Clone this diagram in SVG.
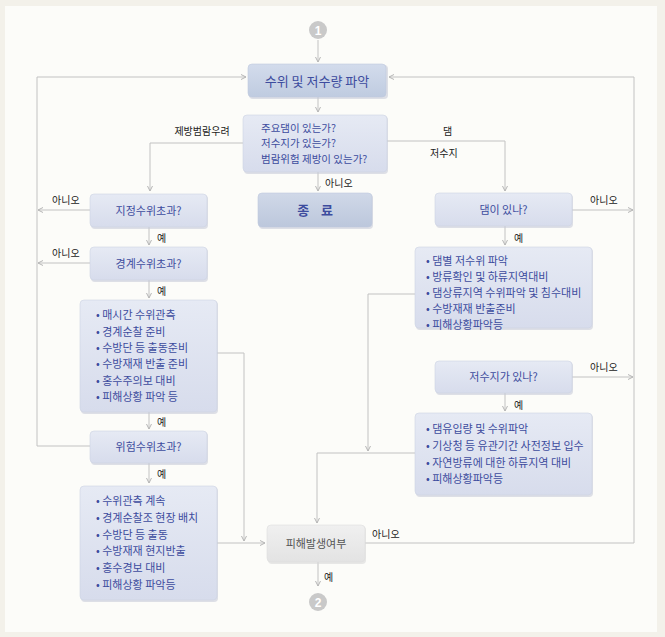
<svg xmlns="http://www.w3.org/2000/svg" width="665" height="637" viewBox="0 0 665 637">
<defs>
<linearGradient id="gBlue" x1="0" y1="0" x2="0" y2="1"><stop offset="0" stop-color="#e6eaf4"/><stop offset="1" stop-color="#d7dcec"/></linearGradient>
<linearGradient id="gMain" x1="0" y1="0" x2="0" y2="1"><stop offset="0" stop-color="#d3dcec"/><stop offset="1" stop-color="#bfcbe0"/></linearGradient>
<linearGradient id="gEnd" x1="0" y1="0" x2="0" y2="1"><stop offset="0" stop-color="#d0d8e8"/><stop offset="1" stop-color="#bcc7dc"/></linearGradient>
<linearGradient id="gGray" x1="0" y1="0" x2="0" y2="1"><stop offset="0" stop-color="#f0f0f0"/><stop offset="1" stop-color="#e3e3e3"/></linearGradient>
<marker id="arr" markerWidth="6" markerHeight="6" refX="5" refY="3" orient="auto" markerUnits="userSpaceOnUse"><path d="M0,0.5 L5,3 L0,5.5" fill="none" stroke="#b5b5b5" stroke-width="1"/></marker>
</defs>
<style>
.c{fill:none;stroke:#c2c2c2;stroke-width:1}
.box{stroke:#cdd3e3;stroke-width:0.6}
.t{font-family:"Noto Sans CJK KR","Noto Sans",sans-serif;fill:#3d4c9e;font-size:11px}
.tq{font-family:"Noto Sans CJK KR","Noto Sans",sans-serif;fill:#3d4c9e;font-size:10.5px}
.tm{font-family:"Noto Sans CJK KR","Noto Sans",sans-serif;fill:#3d4c9e;font-size:13px}
.lb{font-family:"Noto Sans CJK KR","Noto Sans",sans-serif;fill:#222;font-size:10px}
.sh{fill:#c8ccd8;opacity:0.6}
</style>
<rect x="0" y="0" width="665" height="637" fill="#f3f1ea"/>
<rect x="5" y="6" width="652" height="626" fill="#fcfcf9"/>

<g id="connectors">
<path class="c" d="M318,40 V62" marker-end="url(#arr)"/>
<path class="c" d="M318,97 V112" marker-end="url(#arr)"/>
<path class="c" d="M243,143 H150 V191" marker-end="url(#arr)"/>
<path class="c" d="M387,141 H505 V191" marker-end="url(#arr)"/>
<path class="c" d="M318,172 V191" marker-end="url(#arr)"/>
<path class="c" d="M90,210 H38" marker-end="url(#arr)"/>
<path class="c" d="M149,227 V245" marker-end="url(#arr)"/>
<path class="c" d="M90,263 H38" marker-end="url(#arr)"/>
<path class="c" d="M149,280 V298" marker-end="url(#arr)"/>
<path class="c" d="M149,412 V429" marker-end="url(#arr)"/>
<path class="c" d="M90,446 H37 V77 H246" marker-end="url(#arr)"/>
<path class="c" d="M149,463 V483" marker-end="url(#arr)"/>
<path class="c" d="M217,353 H244 V541" marker-end="url(#arr)"/>
<path class="c" d="M217,543 H265" marker-end="url(#arr)"/>
<path class="c" d="M365,543 H634 V77 H389" marker-end="url(#arr)"/>
<path class="c" d="M572,210 H633" marker-end="url(#arr)"/>
<path class="c" d="M572,377 H633" marker-end="url(#arr)"/>
<path class="c" d="M505,226 V245" marker-end="url(#arr)"/>
<path class="c" d="M505,393 V411" marker-end="url(#arr)"/>
<path class="c" d="M415,294 H368 V451" marker-end="url(#arr)"/>
<path class="c" d="M415,453 H317 V523" marker-end="url(#arr)"/>
<path class="c" d="M318,562 V586" marker-end="url(#arr)"/>
<text class="lb" x="202" y="135" text-anchor="middle">제방범람우려</text>
<text class="lb" x="443" y="135">댐</text>
<text class="lb" x="430" y="157">저수지</text>
<text class="lb" x="325" y="187">아니오</text>
<text class="lb" x="52" y="204">아니오</text>
<text class="lb" x="52" y="257">아니오</text>
<text class="lb" x="157" y="242">예</text>
<text class="lb" x="157" y="295">예</text>
<text class="lb" x="157" y="426">예</text>
<text class="lb" x="157" y="478">예</text>
<text class="lb" x="590" y="204">아니오</text>
<text class="lb" x="590" y="371">아니오</text>
<text class="lb" x="514" y="242">예</text>
<text class="lb" x="514" y="409">예</text>
<text class="lb" x="372" y="538">아니오</text>
<text class="lb" x="324" y="581">예</text>
</g>

<g id="start">
<circle cx="318" cy="30" r="9" fill="#c9c9c9"/>
<text x="318" y="34.5" text-anchor="middle" font-family="Liberation Sans,sans-serif" font-weight="bold" font-size="12" fill="#fff">1</text>
</g>

<g id="n-main">
<rect class="sh" x="249" y="65" width="139" height="34" rx="4"/>
<rect x="248" y="64" width="138" height="33" rx="4" fill="url(#gMain)" stroke="#c0cade" stroke-width="0.6"/>
<text class="tm" x="317" y="85.5" text-anchor="middle">수위 및 저수량 파악</text>
</g>

<g id="n-question">
<rect class="sh" x="244" y="116" width="144" height="58" rx="4"/>
<rect class="box" x="243" y="115" width="144" height="57" rx="4" fill="url(#gBlue)"/>
<text class="tq" x="261" y="131.5">주요댐이 있는가?</text>
<text class="tq" x="261" y="147">저수지가 있는가?</text>
<text class="tq" x="261" y="162.5">범람위험 제방이 있는가?</text>
</g>

<g id="n-end">
<rect class="sh" x="259" y="194" width="114" height="35" rx="4"/>
<rect x="258" y="193" width="114" height="34" rx="4" fill="url(#gEnd)" stroke="#c0cade" stroke-width="0.6"/>
<text class="tm" x="315" y="215" text-anchor="middle" font-weight="bold" xml:space="preserve">종    료</text>
</g>

<g id="n-designated">
<rect class="sh" x="91" y="195" width="117" height="34" rx="4"/>
<rect class="box" x="90" y="194" width="117" height="33" rx="4" fill="url(#gBlue)"/>
<text class="t" x="148.5" y="214.5" text-anchor="middle">지정수위초과?</text>
</g>

<g id="n-warning">
<rect class="sh" x="91" y="248" width="117" height="34" rx="4"/>
<rect class="box" x="90" y="247" width="117" height="33" rx="4" fill="url(#gBlue)"/>
<text class="t" x="148.5" y="267.5" text-anchor="middle">경계수위초과?</text>
</g>

<g id="n-list1">
<rect class="sh" x="81" y="301" width="137" height="113" rx="4"/>
<rect class="box" x="80" y="300" width="137" height="112" rx="4" fill="url(#gBlue)"/>
<text class="t" x="96" y="319">• 매시간 수위관측</text>
<text class="t" x="96" y="335.5">• 경계순찰 준비</text>
<text class="t" x="96" y="352">• 수방단 등 출동준비</text>
<text class="t" x="96" y="368">• 수방재재 반출 준비</text>
<text class="t" x="96" y="384.5">• 홍수주의보 대비</text>
<text class="t" x="96" y="401">• 피해상황 파악 등</text>
</g>

<g id="n-danger">
<rect class="sh" x="91" y="432" width="117" height="33" rx="4"/>
<rect class="box" x="90" y="431" width="117" height="32" rx="4" fill="url(#gBlue)"/>
<text class="t" x="148.5" y="451" text-anchor="middle">위험수위초과?</text>
</g>

<g id="n-list2">
<rect class="sh" x="81" y="487" width="137" height="115" rx="4"/>
<rect class="box" x="80" y="486" width="137" height="114" rx="4" fill="url(#gBlue)"/>
<text class="t" x="96" y="505">• 수위관측 계속</text>
<text class="t" x="96" y="522">• 경계순찰조 현장 배치</text>
<text class="t" x="96" y="538.5">• 수방단 등 출동</text>
<text class="t" x="96" y="555">• 수방재재 현지반출</text>
<text class="t" x="96" y="572">• 홍수경보 대비</text>
<text class="t" x="96" y="588.5">• 피해상황 파악등</text>
</g>

<g id="n-dam">
<rect class="sh" x="436" y="194" width="137" height="34" rx="4"/>
<rect class="box" x="435" y="193" width="137" height="33" rx="4" fill="url(#gBlue)"/>
<text class="t" x="503.5" y="214" text-anchor="middle">댐이 있나?</text>
</g>

<g id="n-list3">
<rect class="sh" x="416" y="248" width="177" height="82" rx="4"/>
<rect class="box" x="415" y="247" width="177" height="81" rx="4" fill="url(#gBlue)"/>
<text class="t" x="426" y="265">• 댐별 저수위 파악</text>
<text class="t" x="426" y="281">• 방류확인 및 하류지역대비</text>
<text class="t" x="426" y="297">• 댐상류지역 수위파악 및 침수대비</text>
<text class="t" x="426" y="313">• 수방재재 반출준비</text>
<text class="t" x="426" y="329">• 피해상황파악등</text>
</g>

<g id="n-reservoir">
<rect class="sh" x="436" y="362" width="137" height="33" rx="4"/>
<rect class="box" x="435" y="361" width="137" height="32" rx="4" fill="url(#gBlue)"/>
<text class="t" x="503.5" y="381" text-anchor="middle">저수지가 있나?</text>
</g>

<g id="n-list4">
<rect class="sh" x="416" y="414" width="177" height="83" rx="4"/>
<rect class="box" x="415" y="413" width="177" height="82" rx="4" fill="url(#gBlue)"/>
<text class="t" x="426" y="433">• 댐유입량 및 수위파악</text>
<text class="t" x="426" y="450">• 기상청 등 유관기간 사전정보 입수</text>
<text class="t" x="426" y="466.5">• 자연방류에 대한 하류지역 대비</text>
<text class="t" x="426" y="483">• 피해상황파악등</text>
</g>

<g id="n-damage">
<rect x="268" y="526" width="98" height="38" rx="4" fill="#d8d8d8" opacity="0.6"/>
<rect x="267" y="525" width="98" height="37" rx="4" fill="url(#gGray)" stroke="#dedede" stroke-width="0.6"/>
<text x="316" y="548" text-anchor="middle" font-family="Noto Sans CJK KR,Noto Sans,sans-serif" font-size="11" fill="#555">피해발생여부</text>
</g>

<g id="finish">
<circle cx="318" cy="602" r="9" fill="#c9c9c9"/>
<text x="318" y="606.5" text-anchor="middle" font-family="Liberation Sans,sans-serif" font-weight="bold" font-size="12" fill="#fff">2</text>
</g>
</svg>
